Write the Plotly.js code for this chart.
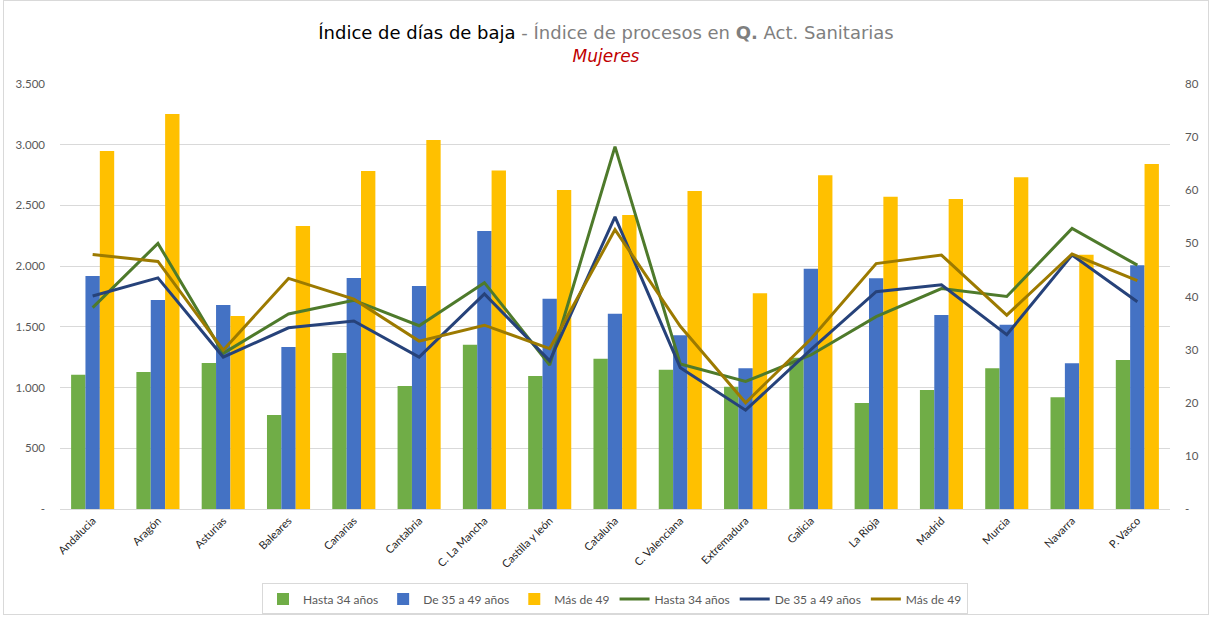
<!DOCTYPE html>
<html><head><meta charset="utf-8">
<script src="https://cdn.plot.ly/plotly-3.0.1.min.js"></script>
<style>html,body{margin:0;padding:0;background:#fff}#frame{position:absolute;left:3px;top:0;width:1206px;height:615px;border:1px solid #d9d9d9;box-sizing:border-box}#chart{width:1212px;height:617px}</style>
</head><body><div id="frame"></div><div id="chart"></div>
<script>
const categories = ["Andalucia","Aragón","Asturias","Baleares","Canarias","Cantabria","C. La Mancha","Castilla y león","Cataluña","C. Valenciana","Extremadura","Galicia","La Rioja","Madrid","Murcia","Navarra","P. Vasco"];
// Bars (left axis): Índice de días de baja
const barHasta34 = [1105,1128,1202,774,1285,1013,1352,1095,1238,1147,1007,1245,873,980,1159,920,1227];
const barDe35a49 = [1919,1721,1680,1334,1902,1836,2289,1732,1608,1430,1159,1979,1900,1598,1518,1200,2007];
const barMas49   = [2948,3253,1589,2331,2783,3039,2788,2627,2421,2619,1776,2748,2572,2553,2732,2094,2841];
// Lines (right axis): Índice de procesos
const lineHasta34 = [37.9,50.0,29.3,36.7,39.3,34.5,42.6,27.1,68.2,27.3,24.0,29.0,36.2,41.5,40.0,52.8,45.9];
const lineDe35a49 = [40.1,43.5,28.6,34.1,35.4,28.6,40.5,27.9,55.0,26.6,18.6,30.0,40.9,42.2,32.8,47.8,39.0];
const lineMas49   = [47.9,46.6,29.9,43.4,39.5,31.6,34.6,30.2,52.6,34.4,20.0,32.0,46.2,47.8,36.5,48.0,43.0];
const leftTickVals = [0,500,1000,1500,2000,2500,3000,3500];
const leftTickText = ["-","500","1.000","1.500","2.000","2.500","3.000","3.500"];
const rightTickVals = [0,10,20,30,40,50,60,70,80];
const rightTickText = ["-","10","20","30","40","50","60","70","80"];

const F = "Lato, 'Liberation Sans', sans-serif";
const traces = [
  {type:'bar', name:'Hasta 34 años', x:categories, y:barHasta34, marker:{color:'#70AD47'}},
  {type:'bar', name:'De 35 a 49 años', x:categories, y:barDe35a49, marker:{color:'#4472C4'}},
  {type:'bar', name:'Más de 49', x:categories, y:barMas49, marker:{color:'#FFC000'}},
  {type:'scatter', mode:'lines', name:'Hasta 34 años', x:categories, y:lineHasta34, yaxis:'y2', line:{color:'#4E7A2B', width:3}},
  {type:'scatter', mode:'lines', name:'De 35 a 49 años', x:categories, y:lineDe35a49, yaxis:'y2', line:{color:'#26427A', width:3}},
  {type:'scatter', mode:'lines', name:'Más de 49', x:categories, y:lineMas49, yaxis:'y2', line:{color:'#9C7A00', width:3}}
];
const layout = {
  width:1212, height:617,
  paper_bgcolor:'rgba(0,0,0,0)', plot_bgcolor:'rgba(0,0,0,0)',
  margin:{l:60, r:42, t:84, b:108, autoexpand:false},
  barmode:'group', bargap:0.34, bargroupgap:0,
  showlegend:true,
  title:{text:"Índice de días de baja<span style='color:#7f7f7f'> - Índice de procesos en <b>Q.</b> Act. Sanitarias</span><br><i><span style='color:#C00000;font-size:17px'>Mujeres</span></i>",
    x:0.5, xanchor:'center', y:0.937, yanchor:'top', font:{family:"'DejaVu Sans', sans-serif", size:18, color:'#000'}},
  font:{family:F, size:11, color:'#595959'},
  xaxis:{tickangle:-45, tickfont:{family:F, size:11, color:'#262626'}, showline:true, linecolor:'#d9d9d9', linewidth:1, ticks:'', showgrid:false, fixedrange:true},
  yaxis:{range:[0,3500], tickvals:leftTickVals, ticktext:leftTickText, gridcolor:'#d9d9d9', zeroline:false, ticks:'', ticklen:0, tickfont:{family:F, size:11.5, color:'#595959'}, ticklabelstandoff:14},
  yaxis2:{range:[0,80], overlaying:'y', side:'right', tickvals:rightTickVals, ticktext:rightTickText, showgrid:false, zeroline:false, tickfont:{family:F, size:11.5, color:'#595959'}, ticklabelstandoff:14},
  legend:{orientation:'h', x:0.5, xanchor:'center', y:-0.175, yanchor:'top', bordercolor:'#d9d9d9', borderwidth:1, font:{family:F, size:12, color:'#595959'}, traceorder:'normal', itemwidth:30, tracegroupgap:0}
};
Plotly.newPlot('chart', traces, layout, {displayModeBar:false, staticPlot:true});
</script>
</body></html>
